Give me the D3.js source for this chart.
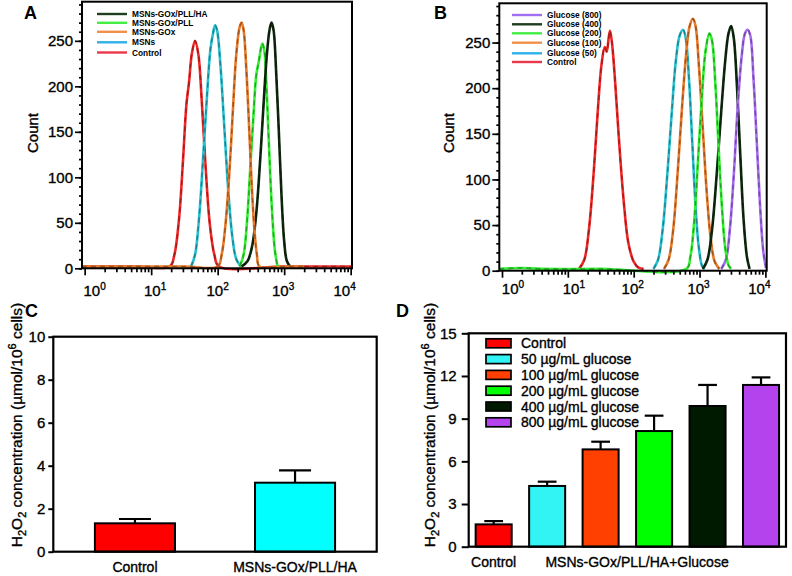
<!DOCTYPE html>
<html><head><meta charset="utf-8">
<script src="https://cdn.jsdelivr.net/npm/d3@7"></script>
<style>body{margin:0;background:#fff} svg{display:block} text{font-family:'Liberation Sans',Arial,Helvetica,sans-serif;fill:#000}
.heavy{stroke:#000;stroke-width:0.35px}</style>
</head><body><svg id="c" width="792" height="576"></svg>
<script>
// ---------------- DATA ----------------
// Panel A: flow cytometry histograms, points are [log10(fluorescence), count]
const aNames = ["MSNs-GOx/PLL/HA","MSNs-GOx/PLL","MSNs-GOx","MSNs","Control"];
const aLegendColors = ["#1f3d1f","#44ee44","#f0904a","#30b0e8","#e8384a"];
const aLineColors = ["#0f2a0f","#33f033","#e87a2a","#28c0d0","#f02828"];
const aHA = [[2.36,2],[2.45,8],[2.52,25],[2.58,60],[2.64,120],[2.69,180],[2.74,235],[2.78,262],[2.81,270],[2.84,262],[2.88,215],[2.92,150],[2.96,80],[3.00,30],[3.04,8],[3.09,2]];
const aPLL = [[2.33,2],[2.39,15],[2.44,50],[2.49,110],[2.54,170],[2.58,212],[2.62,228],[2.67,247],[2.70,240],[2.74,190],[2.78,120],[2.82,60],[2.86,20],[2.90,2]];
const aGOx = [[-0.04,2],[1.5,2],[2.00,2],[2.06,15],[2.12,50],[2.18,110],[2.23,175],[2.28,235],[2.33,265],[2.36,270],[2.39,262],[2.43,220],[2.47,160],[2.51,95],[2.55,45],[2.59,15],[2.63,2],[3.0,2],[3.3,2]];
const aMSN = [[1.60,2],[1.66,15],[1.72,55],[1.78,120],[1.84,190],[1.89,240],[1.93,258],[1.96,267],[1.99,262],[2.04,225],[2.10,155],[2.16,85],[2.22,35],[2.28,10],[2.35,2]];
const aCtrl = [[-0.04,2],[0.8,2],[1.28,2],[1.35,15],[1.42,55],[1.48,120],[1.53,180],[1.57,205],[1.61,235],[1.66,250],[1.71,235],[1.76,185],[1.82,110],[1.88,50],[1.95,15],[2.02,2],[3.0,2],[4.02,2]];
const aSeries = [aHA, aPLL, aGOx, aMSN, aCtrl];
const aDrawOrder = [4,3,1,0,2];

// Panel B
const bNames = ["Glucose (800)","Glucose (400)","Glucose (200)","Glucose (100)","Glucose (50)","Control"];
const bLegendColors = ["#a070f0","#1f3d1f","#44ee44","#f0904a","#30b0e8","#e8384a"];
const bLineColors = ["#a66cf0","#0f2a0f","#33f033","#e87a2a","#28c0d0","#f02828"];
const b800 = [[3.33,2],[3.40,12],[3.46,45],[3.52,105],[3.58,180],[3.64,235],[3.69,260],[3.73,264],[3.77,258],[3.82,210],[3.87,140],[3.92,70],[3.97,20],[4.01,3]];
const b400 = [[3.05,2],[3.12,12],[3.19,45],[3.26,105],[3.33,175],[3.39,230],[3.44,260],[3.48,268],[3.52,255],[3.57,200],[3.62,125],[3.67,55],[3.72,15],[3.76,2]];
const b200 = [[-0.04,2],[0.3,3],[0.6,2],[1.5,2],[2.80,2],[2.86,15],[2.92,55],[2.98,125],[3.04,195],[3.09,240],[3.15,260],[3.19,252],[3.24,205],[3.29,135],[3.34,70],[3.39,25],[3.44,6],[3.48,2]];
const b100 = [[2.46,2],[2.53,12],[2.60,45],[2.67,110],[2.74,185],[2.80,240],[2.85,268],[2.90,276],[2.94,268],[2.99,225],[3.05,155],[3.11,85],[3.17,35],[3.23,10],[3.30,2]];
const b50 = [[2.30,2],[2.37,12],[2.44,45],[2.51,105],[2.58,175],[2.64,230],[2.70,258],[2.75,264],[2.79,255],[2.84,210],[2.89,140],[2.94,70],[2.99,25],[3.04,5],[3.08,2]];
const bCtrl = [[1.17,2],[1.25,12],[1.32,45],[1.39,105],[1.45,170],[1.51,225],[1.56,245],[1.59,240],[1.62,255],[1.64,263],[1.67,250],[1.72,205],[1.78,140],[1.85,75],[1.92,30],[2.00,10],[2.08,3],[2.15,2]];
const bSeries = [b800, b400, b200, b100, b50, bCtrl];
const bDrawOrder = [5,4,3,1,0,2];

const flowYTicks = [0,50,100,150,200,250];
const flowXTicks = [0,1,2,3,4];          // exponents of 10
const minorMult = [2,3,4,5,6,7,8,9];

// Panel C
const cCats = ["Control","MSNs-GOx/PLL/HA"];
const cVals = [1.32, 3.21];
const cErrs = [0.20, 0.57];
const cColors = ["#ff0000","#00ffff"];
const cYTicks = [0,2,4,6,8,10];

// Panel D
const dCats = ["Control","50 µg/mL glucose","100 µg/mL glucose","200 µg/mL glucose","400 µg/mL glucose","800 µg/mL glucose"];
const dVals = [1.57, 4.27, 6.84, 8.13, 9.89, 11.37];
const dErrs = [0.23, 0.30, 0.54, 1.08, 1.48, 0.53];
const dColors = ["#ff0000","#33f4f4","#ff4000","#00ff00","#001a00","#b443ee"];
const dYTicks = [0,3,6,9,12,15];

// ---------------- DRAW ----------------
const svg = d3.select("#c");

function panelLetter(t, x, y){
  svg.append("text").attr("x",x).attr("y",y).attr("font-size",18).attr("font-weight","bold").text(t);
}

function flowPanel(o){
  const g = svg.append("g");
  const x = d3.scaleLog().domain([Math.pow(10,o.xd[0]), Math.pow(10,o.xd[1])]).range(o.xr);
  const y = d3.scaleLinear().domain([0,293]).range(o.yr);
  const line = d3.line().x(d=>x(Math.pow(10,d[0]))).y(d=>y(d[1])).curve(d3.curveCatmullRom.alpha(0.5));
  o.order.forEach(i=>{
    g.append("path").attr("d",line(o.series[i])).attr("fill","none").attr("stroke",o.lineColors[i]).attr("stroke-width",2.6);
    g.append("path").attr("d",line(o.series[i])).attr("fill","none")
      .attr("stroke",d3.color(o.lineColors[i]).darker(1.3)).attr("stroke-width",1.5)
      .attr("stroke-dasharray","5,4").attr("opacity",0.85);
  });
  g.append("rect").attr("x",o.xr[0]).attr("y",o.yr[1]).attr("width",o.xr[1]-o.xr[0]).attr("height",o.yr[0]-o.yr[1])
    .attr("fill","none").attr("stroke","#000").attr("stroke-width",2);
  const majors = flowXTicks.map(e=>Math.pow(10,e));
  const minors = [];
  flowXTicks.slice(0,4).forEach(e=>minorMult.forEach(m=>minors.push(m*Math.pow(10,e))));
  const ax1 = g.append("g").attr("transform",`translate(0,${o.yr[0]})`).call(d3.axisBottom(x).tickValues(majors).tickSize(7).tickFormat(""));
  const ax2 = g.append("g").attr("transform",`translate(0,${o.yr[0]})`).call(d3.axisBottom(x).tickValues(minors).tickSize(4).tickFormat(""));
  [ax1,ax2].forEach(a=>{a.select(".domain").remove(); a.selectAll("line").attr("stroke-width",1.7);});
  flowXTicks.forEach((e,i)=>{
    const t = g.append("text").attr("class","heavy").attr("x",x(Math.pow(10,e))+o.labDx[i]).attr("y",o.labY).attr("text-anchor","middle").attr("font-size",15);
    t.append("tspan").text("10");
    t.append("tspan").attr("dy",-6).attr("font-size",10).text(e);
  });
  const minorY = d3.range(0,291,10);
  const ay2 = g.append("g").attr("transform",`translate(${o.xr[0]},0)`).call(d3.axisLeft(y).tickValues(minorY).tickSize(3).tickFormat(""));
  const ay1 = g.append("g").attr("transform",`translate(${o.xr[0]},0)`).call(d3.axisLeft(y).tickValues(flowYTicks).tickSize(7).tickPadding(2));
  [ay1,ay2].forEach(a=>{a.select(".domain").remove(); a.selectAll("line").attr("stroke-width",1.7);});
  ay1.selectAll("text").attr("class","heavy").attr("font-size",15).attr("font-family","'Liberation Sans',Arial,sans-serif").attr("fill","#000");
  g.append("text").attr("class","heavy").attr("transform",`translate(${o.countX},${o.countY}) rotate(-90)`).attr("text-anchor","middle").attr("font-size",15).text("Count");
  o.names.forEach((n,i)=>{
    const yy = o.legY[i];
    g.append("line").attr("x1",o.legX).attr("x2",o.legX+30).attr("y1",yy).attr("y2",yy).attr("stroke",o.legColors[i]).attr("stroke-width",2.4);
    g.append("text").attr("x",o.legX+35).attr("y",yy+3).attr("font-size",8.3).attr("font-weight","bold").attr("fill","#222").text(n);
  });
}

flowPanel({xd:[-0.04,4.02], xr:[82,352], yr:[268.3,1.7], series:aSeries, order:aDrawOrder, lineColors:aLineColors,
  labDx:[10,4,0,-1,-6], labY:296, countX:38, countY:133,
  names:aNames, legColors:aLegendColors, legX:97, legY:[14,22.8,31.8,42.3,52.5]});
flowPanel({xd:[-0.041,4.02], xr:[499.3,766.7], yr:[270.7,3.3], series:bSeries, order:bDrawOrder, lineColors:bLineColors,
  labDx:[11,6,-1,-1,-6], labY:294, countX:454, countY:133,
  names:bNames, legColors:bLegendColors, legX:512, legY:[15,24.3,33.3,42.7,53.3,62]});

panelLetter("A",24,18.5);
panelLetter("B",434,18.5);
panelLetter("C",25,317);
panelLetter("D",396,317);

function yLabel(g, x, y){
  const t = g.append("text").attr("class","heavy").attr("transform",`translate(${x},${y}) rotate(-90)`).attr("text-anchor","middle").attr("font-size",15.5);
  t.append("tspan").text("H");
  t.append("tspan").attr("dy",4).attr("font-size",11).text("2");
  t.append("tspan").attr("dy",-4).text("O");
  t.append("tspan").attr("dy",4).attr("font-size",11).text("2");
  t.append("tspan").attr("dy",-4).text(" concentration (µmol/10");
  t.append("tspan").attr("dy",-6).attr("font-size",11).text("6");
  t.append("tspan").attr("dy",6).text(" cells)");
}

function barPanel(o){
  const g = svg.append("g");
  const x = d3.scaleBand().domain(o.cats).range(o.xr).paddingInner(o.pi).paddingOuter(o.po);
  const y = d3.scaleLinear().domain([0,o.ymax]).range(o.yr);
  o.cats.forEach((c,i)=>{
    const cx = x(c)+x.bandwidth()/2, hw = x.bandwidth()*o.capFrac/2;
    g.append("line").attr("x1",cx).attr("x2",cx).attr("y1",y(o.vals[i])).attr("y2",y(o.vals[i]+o.errs[i])).attr("stroke","#000").attr("stroke-width",2.2);
    g.append("line").attr("x1",cx-hw).attr("x2",cx+hw).attr("y1",y(o.vals[i]+o.errs[i])).attr("y2",y(o.vals[i]+o.errs[i])).attr("stroke","#000").attr("stroke-width",2.2);
  });
  g.selectAll("rect.bar").data(o.cats).join("rect").attr("class","bar")
    .attr("x",c=>x(c)).attr("width",x.bandwidth())
    .attr("y",(c,i)=>y(o.vals[i])).attr("height",(c,i)=>y(0)-y(o.vals[i]))
    .attr("fill",(c,i)=>o.colors[i]).attr("stroke","#000").attr("stroke-width",2);
  g.append("rect").attr("x",o.xr[0]).attr("y",o.yr[1]).attr("width",o.xr[1]-o.xr[0]).attr("height",o.yr[0]-o.yr[1])
    .attr("fill","none").attr("stroke","#000").attr("stroke-width",2.2);
  const ay = g.append("g").attr("transform",`translate(${o.xr[0]},0)`).call(d3.axisLeft(y).tickValues(o.yticks).tickSize(o.tickSize).tickPadding(o.tickPad));
  ay.select(".domain").remove();
  ay.selectAll("line").attr("stroke-width",2);
  ay.selectAll("text").attr("class","heavy").attr("font-size",15).attr("font-family","'Liberation Sans',Arial,sans-serif").attr("fill","#000");
  yLabel(g, o.ylabX, o.ylabY);
  return {g,x,y};
}

const C = barPanel({cats:cCats, vals:cVals, errs:cErrs, colors:cColors, ymax:10, yticks:cYTicks,
  xr:[53.3,376.7], yr:[551.7,336.7], pi:0.5, po:0.26, capFrac:0.4, tickSize:5, tickPad:3, ylabX:22, ylabY:425});
cCats.forEach(c=>{
  C.g.append("text").attr("class","heavy").attr("x",C.x(c)+C.x.bandwidth()/2).attr("y",572).attr("text-anchor","middle").attr("font-size",14).text(c);
});

const D = barPanel({cats:dCats, vals:dVals, errs:dErrs, colors:dColors, ymax:15, yticks:dYTicks,
  xr:[468.7,786], yr:[546.7,333.3], pi:0.326, po:0.13, capFrac:0.52, tickSize:7, tickPad:5, ylabX:434.5, ylabY:425});
D.g.append("text").attr("class","heavy").attr("x",D.x(dCats[0])+D.x.bandwidth()/2).attr("y",567).attr("text-anchor","middle").attr("font-size",14).text("Control");
D.g.append("text").attr("class","heavy").attr("x",(D.x(dCats[1])+D.x(dCats[5])+D.x.bandwidth())/2 - 17).attr("y",567).attr("text-anchor","middle").attr("font-size",14).text("MSNs-GOx/PLL/HA+Glucose");
dCats.forEach((c,i)=>{
  const yy = 343.3 + i*15.8;
  D.g.append("rect").attr("x",486).attr("y",yy-4.5).attr("width",25).attr("height",9).attr("fill",dColors[i]).attr("stroke","#000").attr("stroke-width",1.7);
  D.g.append("text").attr("class","heavy").attr("x",521).attr("y",yy+5).attr("font-size",14).text(c);
});
</script></body></html>
